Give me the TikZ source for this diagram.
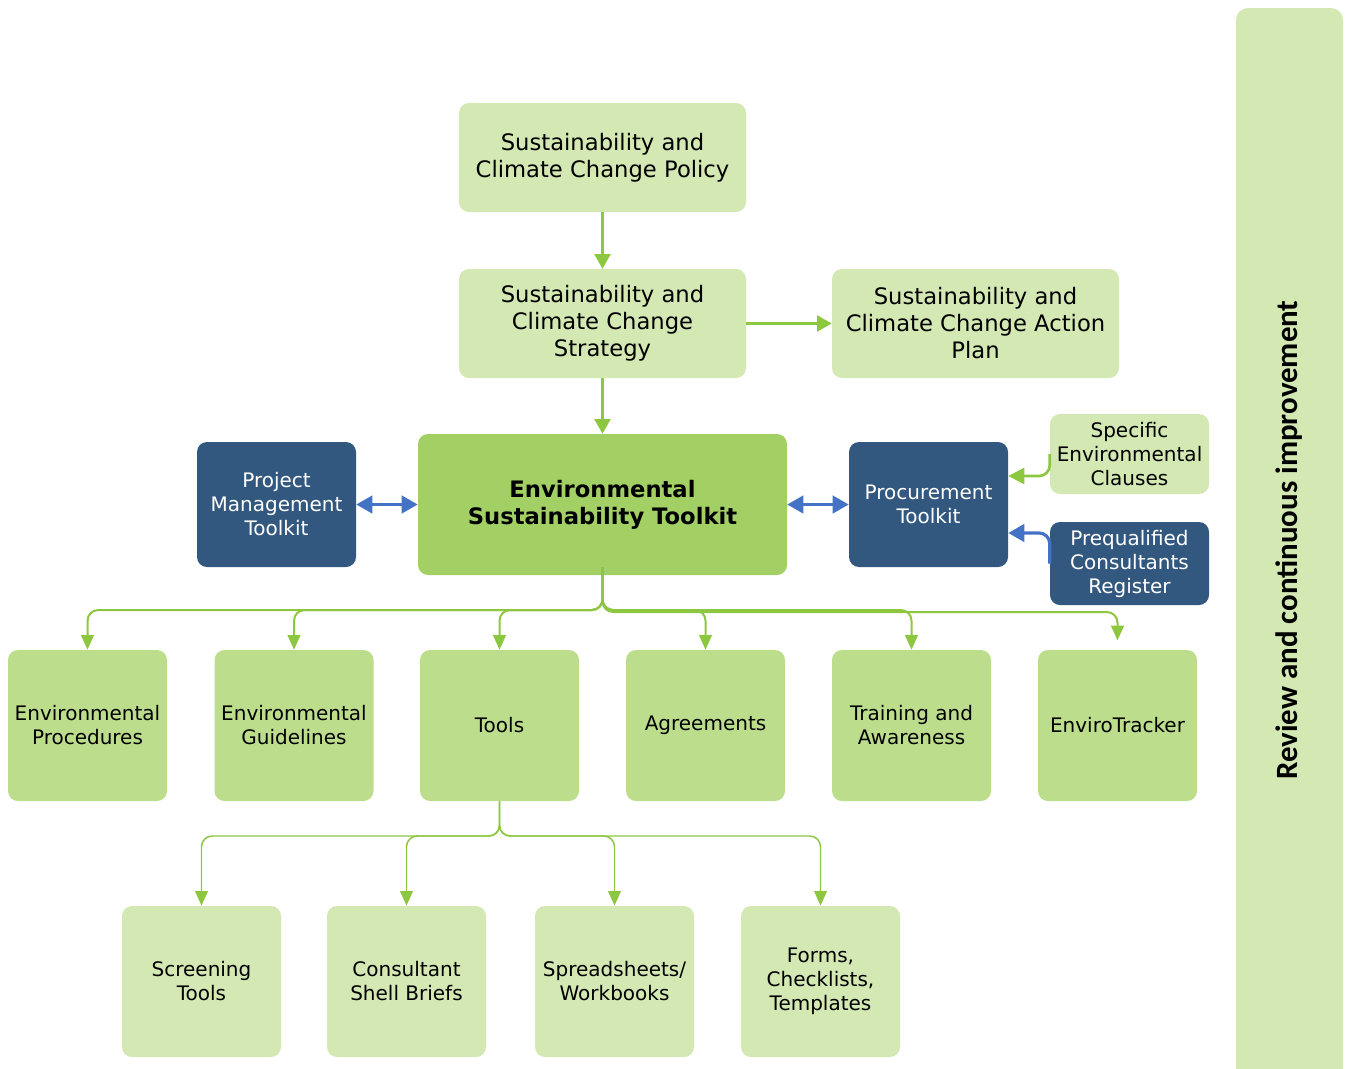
\documentclass[tikz,border=0pt]{standalone}
\usepackage{fontspec}
\setmainfont{DejaVu Sans}
\newfontfamily\barfont{Carlito}
\usetikzlibrary{arrows.meta}
\definecolor{lgreen}{HTML}{D3E8B3}
\definecolor{mgreen}{HTML}{BCDE8C}
\definecolor{tgreen}{HTML}{A3D065}
\definecolor{dblue}{HTML}{33587F}
\definecolor{agreen}{HTML}{8DC63F}
\definecolor{ablue}{HTML}{4472C4}
\begin{document}
\begin{tikzpicture}[x=0.75pt,y=-0.75pt,
  box/.style={rounded corners=7.5pt, inner sep=0pt, align=center,
    font=\fontsize{15}{18}\selectfont, minimum width=119.25pt, minimum height=113.25pt},
  topbox/.style={box, fill=lgreen, minimum width=215.25pt, minimum height=81.75pt,
    font=\fontsize{17}{20.25}\selectfont},
  tkbox/.style={box, fill=tgreen, minimum width=276.75pt, minimum height=105.75pt,
    font=\bfseries\fontsize{17}{20.25}\selectfont},
  bluebox/.style={box, fill=dblue, text=white, minimum height=93.75pt},
  smallbox/.style={box, fill=lgreen, minimum height=60pt},
  rowbox/.style={box, fill=mgreen},
  lowbox/.style={box, fill=lgreen},
  gconn/.style={draw=agreen, line width=1.5pt, rounded corners=8pt,
    -{Triangle[width=9.5pt,length=11pt]}},
  gconnthin/.style={gconn, line width=1.1pt},
  gconntop/.style={draw=agreen, line width=1.6pt,
    -{Triangle[width=12pt,length=11pt]}},
  bconn/.style={draw=ablue, line width=2.4pt,
    {Triangle[width=13pt,length=12pt]}-{Triangle[width=13pt,length=12pt]}},
  bconnone/.style={draw=ablue, line width=2.4pt, rounded corners=8pt,
    -{Triangle[width=13pt,length=12pt]}},
  gconnone/.style={draw=agreen, line width=2pt, rounded corners=8pt,
    -{Triangle[width=12pt,length=12pt]}}
]
\useasboundingbox (0,0) rectangle (1352,1068);

% right bar
\fill[lgreen, rounded corners=9pt] (1236,8) rectangle (1343,1095);
\node[rotate=90, font=\barfont\bfseries\fontsize{23.2}{26}\selectfont] (rev) at (1289.5,540) {Review and continuous improvement};

\node[topbox] (pol) at (602.5,157.5) {Sustainability and\\Climate Change Policy};
\node[topbox] (str) at (602.5,323.5) {Sustainability and\\Climate Change\\Strategy};
\node[topbox] (act) at (975.5,323.5) {Sustainability and\\Climate Change Action\\Plan};
\node[tkbox] (tk) at (602.5,504.5) {Environmental\\Sustainability Toolkit};
\node[bluebox] (pm) at (276.5,504.5) {Project\\Management\\Toolkit};
\node[bluebox] (pt) at (928.5,504.5) {Procurement\\Toolkit};
\node[smallbox] (sp) at (1129.5,454) {Specific\\Environmental\\Clauses};
\node[smallbox, fill=dblue, text=white, minimum height=62.25pt] (pq) at (1129.5,563.5) {Prequalified\\Consultants\\Register};

\node[rowbox] (c1) at (87.5,725.5) {Environmental\\Procedures};
\node[rowbox] (c2) at (294,725.5) {Environmental\\Guidelines};
\node[rowbox] (c3) at (499.5,725.5) {Tools};
\node[rowbox] (c4) at (705.5,725.5) {Agreements};
\node[rowbox] (c5) at (911.5,725.5) {Training and\\Awareness};
\node[rowbox] (c6) at (1117.5,725.5) {EnviroTracker};

\node[lowbox] (d1) at (201.5,981.5) {Screening\\Tools};
\node[lowbox] (d2) at (406.5,981.5) {Consultant\\Shell Briefs};
\node[lowbox] (d3) at (614.5,981.5) {Spreadsheets/\\Workbooks};
\node[lowbox] (d4) at (820.5,981.5) {Forms,\\Checklists,\\Templates};

% connectors
\draw[gconntop] (pol.south) -- (str.north);
\draw[gconntop] (str.south) -- (tk.north);
\draw[gconntop] (str.east) -- (act.west);

\draw[bconn] (pm.east) -- (tk.west);
\draw[bconn] (tk.east) -- (pt.west);

\draw[gconnone] (sp.west) |- (pt.east |- 0,476);
\draw[bconnone] (pq.west) |- (pt.east |- 0,533);

\foreach \n in {c1,c2,c3,c4,c5}
  \draw[gconn] ([yshift=6pt]tk.south) -- (tk.south |- 0,610) -- (\n.north |- 0,610) -- (\n.north);
\draw[gconn] ([yshift=6pt]tk.south) -- (tk.south |- 0,612) -- (c6.north |- 0,612) -- ([yshift=7pt]c6.north);

\foreach \n in {d1,d2,d3,d4}
  \draw[gconnthin] (c3.south) -- (c3.south |- 0,836) -- (\n.north |- 0,836) -- (\n.north);
\end{tikzpicture}
\end{document}
